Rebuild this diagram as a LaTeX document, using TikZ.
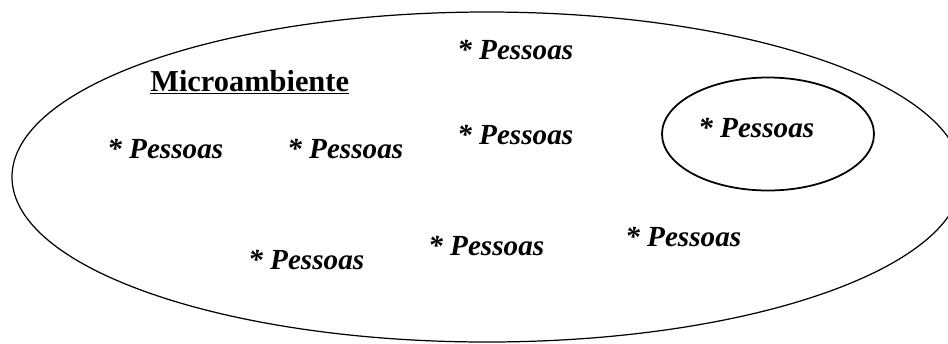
\documentclass[tikz,border=0pt]{standalone}
\usepackage{fontspec}
\setmainfont{Liberation Serif}
\usetikzlibrary{shapes.geometric}

\begin{document}
\begin{tikzpicture}[
  x=0.02cm, y=-0.02cm,
  region/.style={draw, ellipse, inner sep=0pt},
  pessoa/.style={anchor=base west, inner sep=0pt, font=\fontsize{16.6}{18}\selectfont\bfseries\itshape},
  titulo/.style={anchor=base west, inner sep=0pt, font=\fontsize{17.3}{19}\selectfont\bfseries}
]
\useasboundingbox (0,0) rectangle (948,343);
\clip (0,0) rectangle (948,343);
% outer region and the small group on the right
\node[region, line width=0.7pt, minimum width=950*0.02cm, minimum height=330*0.02cm] (micro) at (487,177) {};
\node[region, line width=1pt, minimum width=212*0.02cm, minimum height=113*0.02cm] (grupo) at (768,134) {};
\node[titulo] (nome) at (150,91) {\underline{Microambiente}};
% people scattered inside
\node[pessoa] (p1) at (457,59) {* Pessoas};
\node[pessoa] (p2) at (107,158) {* Pessoas};
\node[pessoa] (p3) at (287,158) {* Pessoas};
\node[pessoa] (p4) at (457,144) {* Pessoas};
\node[pessoa] (p5) at (698,137) {* Pessoas};
\node[pessoa] (p6) at (248,269) {* Pessoas};
\node[pessoa] (p7) at (428,255) {* Pessoas};
\node[pessoa] (p8) at (625,246) {* Pessoas};
\end{tikzpicture}
\end{document}
